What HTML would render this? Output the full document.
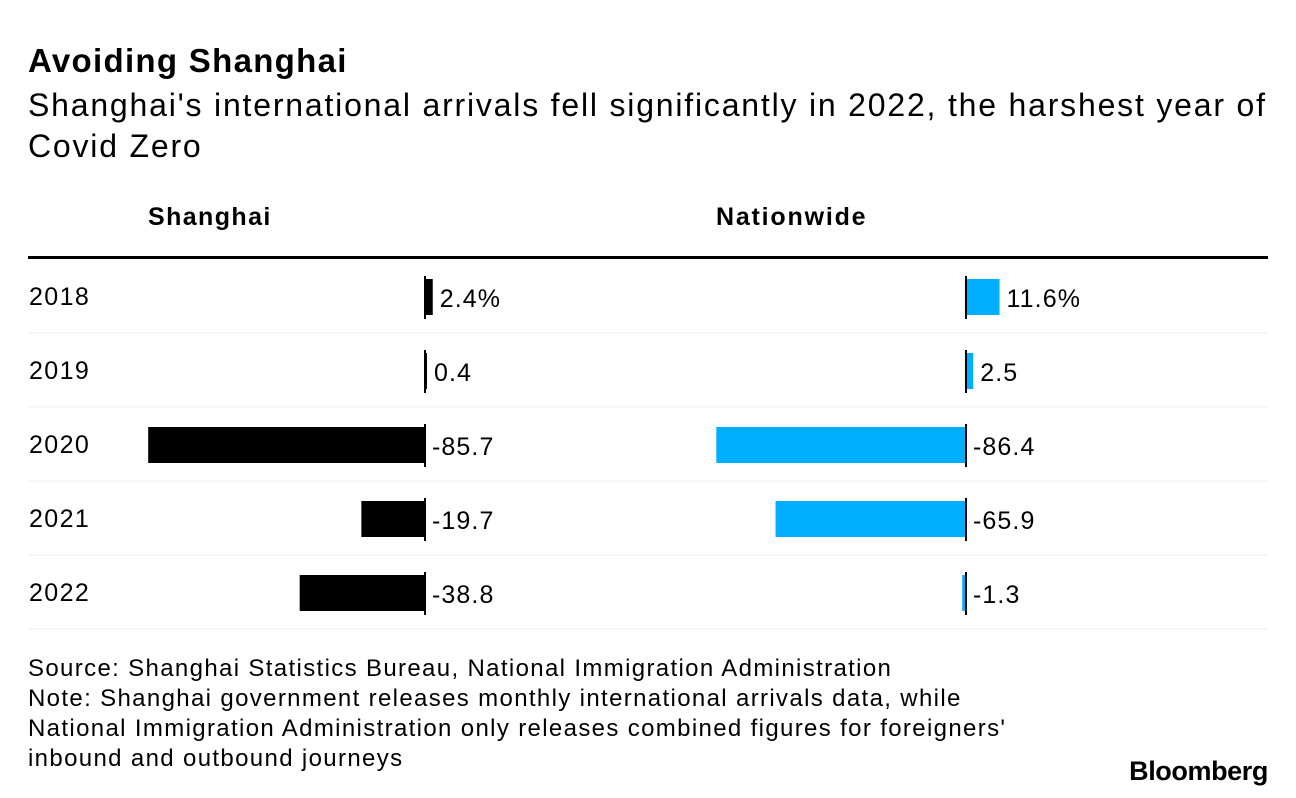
<!DOCTYPE html>
<html><head><meta charset="utf-8"><style>
body{margin:0;width:1296px;height:798px;background:#fff;font-family:"Liberation Sans",Arial,sans-serif;color:#000;overflow:hidden;position:relative}
.t{position:absolute;white-space:nowrap}
</style></head><body>
<div class="t" style="left:28px;top:42px;font-size:33px;font-weight:bold;letter-spacing:1.3px">Avoiding Shanghai</div>
<div class="t" style="left:28px;top:85px;font-size:32px;letter-spacing:1.8px;line-height:41px;white-space:normal;width:1262px">Shanghai's international arrivals fell significantly in 2022, the harshest year of Covid Zero</div>
<div class="t" style="left:148px;top:203px;font-size:25px;font-weight:bold;letter-spacing:1.4px">Shanghai</div>
<div class="t" style="left:716px;top:203px;font-size:25px;font-weight:bold;letter-spacing:1.8px">Nationwide</div>
<svg id="chart" width="1296" height="798" style="position:absolute;left:0;top:0"></svg>
<div class="t" style="left:28px;top:654px;font-size:24px;letter-spacing:1.35px;line-height:30px;white-space:pre">Source: Shanghai Statistics Bureau, National Immigration Administration
Note: Shanghai government releases monthly international arrivals data, while
National Immigration Administration only releases combined figures for foreigners'
inbound and outbound journeys</div>
<div class="t" style="right:28px;top:756px;font-size:27px;font-weight:bold;letter-spacing:-0.4px">Bloomberg</div>
<script>
const years=["2018","2019","2020","2021","2022"];
const shanghai=[2.4,0.4,-85.7,-19.7,-38.8];
const nationwide=[11.6,2.5,-86.4,-65.9,-1.3];
const shLabels=["2.4%","0.4","-85.7","-19.7","-38.8"];
const nwLabels=["11.6%","2.5","-86.4","-65.9","-1.3"];
const svg=document.getElementById('chart');
const NS="http://www.w3.org/2000/svg";
function mk(tag,attrs){const e=document.createElementNS(NS,tag);for(const k in attrs)e.setAttribute(k,attrs[k]);svg.appendChild(e);return e;}
const rowY=i=>297+i*74;
const xSh=v=>425+v*3.23;
const xNw=v=>966+v*2.89;
let r=mk('rect',{x:28,y:256,width:1240,height:3,fill:'#000'});


years.forEach((y,i)=>{
  const cy=rowY(i);
  const sep=mk('line',{x1:28,x2:1268,y1:cy+36,y2:cy+36,stroke:'#eee','stroke-width':1});
  
  
  const yl=mk('text',{x:29,y:cy+8,'font-size':25,'letter-spacing':1.4,fill:'#000'});yl.textContent=y;
  
  
  [[shanghai,xSh,425,'#000',shLabels],[nationwide,xNw,966,'#00aeff',nwLabels]].forEach(([arr,xf,x0,col,labs])=>{
    const v=arr[i];let x1=xf(v);
    let a=Math.min(x0,x1),w=Math.max(Math.abs(x1-x0),2);
    const b=mk('rect',{x:a,y:cy-18,width:w,height:36,fill:col});
    
    
    const ax=mk('line',{x1:x0,x2:x0,y1:cy-21,y2:cy+22,stroke:'#000','stroke-width':2});
    
    
    const lx=(v>0?x0+w:x0)+7;
    const t=mk('text',{x:lx,y:cy+10,'font-size':25,'letter-spacing':1.1,fill:'#000'});t.textContent=labs[i];
    
    
  });
});
</script>
</body></html>
